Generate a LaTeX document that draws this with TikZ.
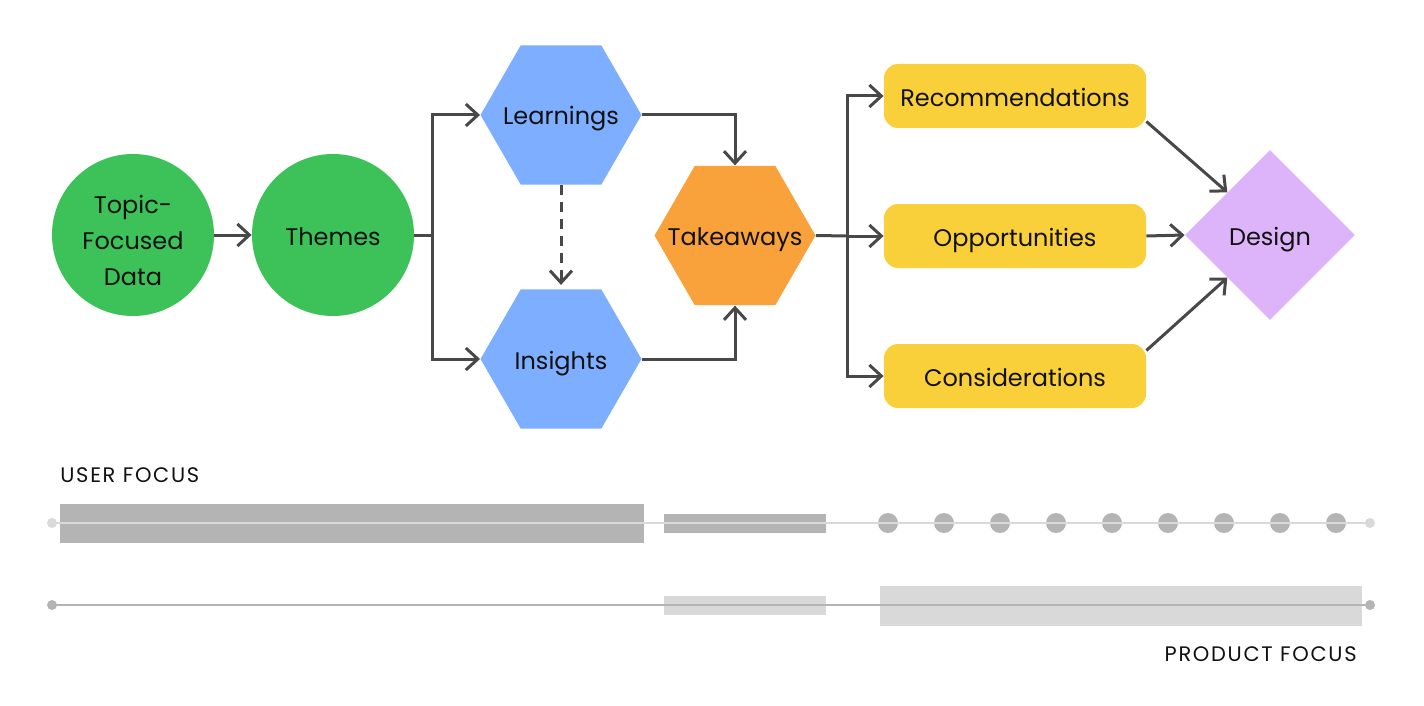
\documentclass[tikz,border=0pt]{standalone}
\usepackage{fontspec}
\setmainfont{Poppins}
\newfontfamily\lblfont[LetterSpace=8]{Poppins}
\usetikzlibrary{shapes.geometric,arrows.meta,calc}
\definecolor{cgreen}{HTML}{3DC25A}
\definecolor{cblue}{HTML}{7EAEFF}
\definecolor{corange}{HTML}{F9A23B}
\definecolor{cyellow}{HTML}{FAD03A}
\definecolor{cpurple}{HTML}{DDB4FA}
\definecolor{cline}{HTML}{484848}
\definecolor{cdark}{HTML}{B4B4B4}
\definecolor{clight}{HTML}{D9D9D9}
\definecolor{ctext}{HTML}{111111}
\newcommand\hexlabel[1]{\makebox[0pt]{#1}}
\begin{document}
\begin{tikzpicture}[x=0.5pt,y=-0.5pt,
  every node/.style={text=ctext,font=\fontsize{12pt}{18pt}\selectfont},
  txt/.style={text height=10pt,text depth=0pt},
  circ/.style={circle,fill=cgreen,minimum size=81pt,inner sep=0pt,align=center},
  hexa/.style={txt,regular polygon,regular polygon sides=6,minimum size=80.5pt,inner sep=0pt},
  rbox/.style={txt,rectangle,rounded corners=7pt,fill=cyellow,minimum width=131pt,minimum height=32pt,inner sep=0pt},
  dmd/.style={txt,diamond,fill=cpurple,minimum width=85pt,minimum height=85pt,inner sep=0pt},
  conn/.style={draw=cline,line width=1.5pt},
  arr/.style={conn,-{Straight Barb[length=6pt,width=11pt,line width=1.5pt]}},
  lbl/.style={font=\lblfont\fontsize{10.5pt}{12pt}\selectfont},
  bar/.style={line width=1pt}
]
\useasboundingbox (0,0) rectangle (1424,706);

% nodes
\node[circ] (tfd) at (133,235) {};
\node[align=center,inner sep=0pt,anchor=center] (tfdtext) at (133,240) {Topic-\\Focused\\Data};
\node[circ,txt] (themes) at (333,235) {Themes};
\node[hexa,fill=cblue] (learn) at (561,115) {\hexlabel{Learnings}};
\node[hexa,fill=cblue] (ins) at (561,359) {\hexlabel{Insights}};
\node[hexa,fill=corange] (take) at (735,235.5) {\hexlabel{Takeaways}};
\node[rbox] (rec) at (1015,96) {Recommendations};
\node[rbox] (opp) at (1015,236) {Opportunities};
\node[rbox] (cons) at (1015,376) {Considerations};
\node[dmd] (design) at (1270,235) {Design};

% connectors
\coordinate (b1) at (432,235);
\coordinate (b2) at (847,236);
\draw[arr] (tfd) -- (themes);
\draw[conn] (themes.east) -- (b1);
\draw[arr] (b1) |- (learn.west);
\draw[arr] (b1) |- (ins.west);
\draw[arr] (learn.east) -| (take.north);
\draw[arr] (ins.east) -| (take.south);
\draw[arr,dash pattern=on 5pt off 3.5pt,shorten >=2pt] (learn.south) -- (ins.north);
\draw[conn] (take.east) -- (b2);
\draw[arr] (b2) |- (rec.west);
\draw[arr] (b2) -- (opp.west);
\draw[arr] (b2) |- (cons.west);
\draw[arr] (rec.-11) -- (design.north west);
\draw[arr] (opp.east) -- (design.west);
\draw[arr] (cons.11) -- (design.south west);

% focus bars
\node[lbl,anchor=base west,inner sep=0pt] (user) at (60,482) {USER FOCUS};
\node[lbl,anchor=base east,inner sep=0pt] (product) at (1357,661) {PRODUCT FOCUS};

\fill[cdark] (60,504) rectangle (644,543);
\fill[cdark] (664,514) rectangle (826,533);
\foreach \k in {0,...,8} \fill[cdark] (888+56*\k,523) circle (5pt);
\draw[clight,bar] (52,523) -- (1370,523);
\fill[clight] (52,523) circle (2.5pt);
\fill[clight] (1370,523) circle (2.5pt);

\fill[clight] (664,596) rectangle (826,615);
\fill[clight] (880,586) rectangle (1362,626);
\draw[cdark,bar] (52,605) -- (1370,605);
\fill[cdark] (52,605) circle (2.5pt);
\fill[cdark] (1370,605) circle (2.5pt);
\end{tikzpicture}
\end{document}
